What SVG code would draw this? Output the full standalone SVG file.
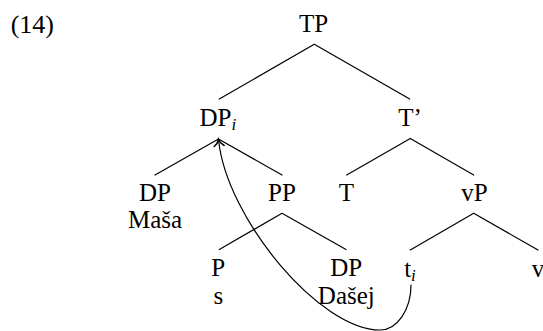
<svg xmlns="http://www.w3.org/2000/svg" width="543" height="331" viewBox="0 0 543 331">
<style>
text{font-family:"Liberation Serif","Times New Roman",serif;font-size:25px;fill:#000;text-anchor:middle}
.sub{font-size:17px;font-style:italic}
.edge{stroke:#000;stroke-width:1.2;fill:none;stroke-linecap:round}
</style>
<defs>
<marker id="arr" markerUnits="userSpaceOnUse" markerWidth="16" markerHeight="16" viewBox="-8 -8 16 16" refX="0" refY="0" orient="auto">
<path d="M-6.5,-5 C-4.5,-2 -1.8,-0.5 0,0 C-1.8,0.5 -4.5,2 -6.5,5" fill="none" stroke="#000" stroke-width="1.5" stroke-linecap="round"/>
</marker>
</defs>
<text x="10.7" y="33" style="text-anchor:start;font-size:26px">(14)</text>
<g id="connectors">
<line class="edge" x1="314.3" y1="44.3" x2="219.3" y2="99"/>
<line class="edge" x1="314.3" y1="44.3" x2="409.7" y2="99"/>
<line class="edge" x1="218.5" y1="139" x2="155" y2="175"/>
<line class="edge" x1="218.5" y1="139" x2="282" y2="175"/>
<line class="edge" x1="410.3" y1="138.5" x2="346.7" y2="175"/>
<line class="edge" x1="410.3" y1="138.5" x2="473.7" y2="175"/>
<line class="edge" x1="282" y1="213.3" x2="219.3" y2="249.5"/>
<line class="edge" x1="282" y1="213.3" x2="346" y2="249.5"/>
<line class="edge" x1="473.7" y1="213.3" x2="410.3" y2="250"/>
<line class="edge" x1="473.7" y1="213.3" x2="538" y2="250"/>
<path class="edge" d="M411,285 C411,309.8 397,330 380,330 C320,330 226.5,219 218.5,139.5" marker-end="url(#arr)"/>
</g>
<g id="TP"><text x="313.7" y="31.7">TP</text></g>
<g id="DPi"><text x="217.8" y="126">DP<tspan class="sub" dy="4">i</tspan></text></g>
<g id="Tbar"><text x="410" y="126">T’</text></g>
<g id="DP-Masa"><text><tspan x="155" y="200.6">DP</tspan><tspan x="155" y="228.4">Maša</tspan></text></g>
<g id="PP"><text x="282" y="201">PP</text></g>
<g id="T"><text x="346.3" y="201">T</text></g>
<g id="vP"><text x="474.5" y="201">vP</text></g>
<g id="P-s"><text><tspan x="218.3" y="275.8">P</tspan><tspan x="218.3" y="303.6">s</tspan></text></g>
<g id="DP-Dasej"><text><tspan x="346.3" y="275.8">DP</tspan><tspan x="346.3" y="303.6">Dašej</tspan></text></g>
<g id="ti"><text x="410" y="276.5">t<tspan class="sub" dy="4">i</tspan></text></g>
<g id="v"><text x="538" y="276.5">v</text></g>
</svg>
